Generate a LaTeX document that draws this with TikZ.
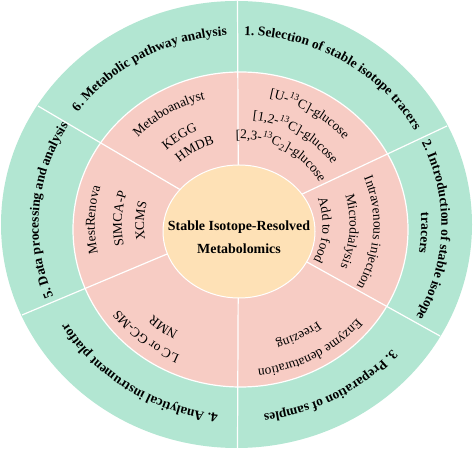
\documentclass[tikz,border=0pt]{standalone}
\usepackage{fontspec}
\setmainfont{Liberation Serif}
\usetikzlibrary{decorations.text}
\definecolor{ringteal}{RGB}{178,230,210}
\definecolor{ringpink}{RGB}{247,204,196}
\definecolor{corepeach}{RGB}{254,225,182}
\newcommand\ringtext[5]{%
  \pgfmathsetmacro\rta{#1+#3}%
  \pgfmathsetmacro\rtb{#1-#3}%
  \pgfmathsetmacro\rtx{1.06*#2}%
  \pgfmathsetmacro\rsx{\rtx*cos(\rta)}%
  \pgfmathsetmacro\rsy{#2*sin(\rta)}%
  \path[decorate,decoration={text along path,text align=center,text={|#4|#5}}]
    (T) ++(\rsx,\rsy) arc[start angle=\rta, end angle=\rtb, x radius=\rtx, y radius=#2];%
}
\newcommand\outerfmt{\bfseries\fontsize{13.5}{16}\selectfont}
\newcommand\innerfmt{\fontsize{13.4}{15}\selectfont}
\begin{document}
\begin{tikzpicture}[x=1bp,y=1bp,
  divider/.style={draw=white,line width=1.2bp},
  centertext/.style={font=\bfseries\fontsize{14}{16}\selectfont,inner sep=0pt}]
\useasboundingbox (0,0) rectangle (474,453);
\coordinate (T) at (240,228);
\coordinate (C) at (238.5,229);
% rings
\fill[ringteal] (236.5,228.5) ellipse [x radius=235.5, y radius=223.5];
\filldraw[fill=ringpink, draw=white, line width=1.2bp] (240.5,223.5) ellipse [x radius=167.5, y radius=157.5];
% dividers
\coordinate (dtop) at (237.5,452);
\coordinate (dbot) at (237.5,5);
\coordinate (d12) at (447,327);
\coordinate (d23) at (440,117);
\coordinate (d45) at (22,138);
\coordinate (d56) at (38,347);
\foreach \e in {dtop,dbot,d12,d23,d45,d56} \draw[divider] (C) -- (\e);
% core
\filldraw[fill=corepeach, draw=white, line width=1bp] (239,221.5) ellipse [x radius=76, y radius=66.5];
\node[centertext] (core1) at (239,226) {Stable Isotope-Resolved};
\node[centertext] (core2) at (239,204) {Metabolomics};
% outer labels
\ringtext{58.3}{190}{75}{\outerfmt}{1. Selection of stable isotope tracers}
\ringtext{-1.6}{190}{75}{\outerfmt}{2. Introduction of stable isotope}
\ringtext{-2.6}{171}{60}{\outerfmt}{tracers}
\ringtext{-61}{190}{75}{\outerfmt}{3. Preparation of samples}
\ringtext{-123.8}{190}{75}{\outerfmt}{4. Analytical instrument platfor}
\ringtext{175.5}{190}{75}{\outerfmt}{5. Data processing and analysis}
\ringtext{119.7}{190}{75}{\outerfmt}{6. Metabolic pathway analysis}
% sector 1
\ringtext{58}{130}{80}{\innerfmt}{[U-{\textsuperscript{13}}C]-glucose}
\ringtext{58}{106}{80}{\innerfmt}{[1,2-{\textsuperscript{13}}C]-glucose}
\ringtext{60}{86}{80}{\innerfmt}{[2,3-{\textsuperscript{13}}C{\textsubscript{2}}]-glucose}
% sector 2
\ringtext{-3.5}{126}{80}{\innerfmt}{Intravenous injection}
\ringtext{-3.5}{103.5}{80}{\innerfmt}{Microdialysis}
\ringtext{-3.5}{78}{80}{\innerfmt}{Add to food}
% sector 3
\ringtext{-60.7}{145}{80}{\innerfmt}{Enzyme denaturation}
\ringtext{-62}{121}{80}{\innerfmt}{Freezing}
% sector 4
\ringtext{-130}{142}{80}{\innerfmt}{LC or GC-MS}
\ringtext{-127}{121.5}{80}{\innerfmt}{NMR}
% sector 5
\ringtext{178}{137}{80}{\innerfmt}{MestRenova}
\ringtext{177}{111.5}{80}{\innerfmt}{SIMCA-P}
\ringtext{177.6}{90.5}{80}{\innerfmt}{XCMS}
% sector 6
\ringtext{122.5}{130}{80}{\innerfmt}{Metaboanalyst}
\ringtext{124.4}{102}{80}{\innerfmt}{KEGG}
\ringtext{120.8}{84.5}{80}{\innerfmt}{HMDB}
\end{tikzpicture}
\end{document}
